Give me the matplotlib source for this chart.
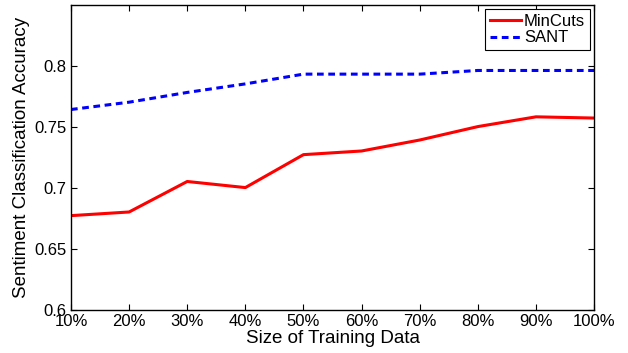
import numpy as np
import matplotlib.pyplot as plt

plt.rcParams['font.family'] = ['Liberation Sans', 'DejaVu Sans']

# Data
sizes = [10, 20, 30, 40, 50, 60, 70, 80, 90, 100]
size_labels = ['10%', '20%', '30%', '40%', '50%', '60%', '70%', '80%', '90%', '100%']
mincuts = [0.677, 0.680, 0.705, 0.700, 0.727, 0.730, 0.739, 0.750, 0.758, 0.757]
sant = [0.764, 0.770, 0.778, 0.785, 0.793, 0.793, 0.793, 0.796, 0.796, 0.796]
y_ticks = [0.6, 0.65, 0.7, 0.75, 0.8]
y_tick_labels = ['0.6', '0.65', '0.7', '0.75', '0.8']

fig = plt.figure(figsize=(6.28, 3.53), dpi=100)
ax = fig.add_axes([0.113, 0.123, 0.833, 0.864])

ax.plot(sizes, mincuts, color='red', lw=2.2, label='MinCuts')
ax.plot(sizes, sant, color='blue', lw=2.2, linestyle=(0, (2.2, 1.5)), label='SANT')

ax.set_xlim(10, 100)
ax.set_ylim(0.6, 0.85)
ax.set_xticks(sizes)
ax.set_xticklabels(size_labels)
ax.set_yticks(y_ticks)
ax.set_yticklabels(y_tick_labels)
ax.tick_params(direction='in', top=True, right=True, labelsize=12, length=4, width=0.8)
ax.tick_params(axis='x', pad=3)
ax.tick_params(axis='y', pad=3)
for s in ax.spines.values():
    s.set_linewidth(1.0)

ax.set_xlabel('Size of Training Data', fontsize=13.5, labelpad=1)
ax.set_ylabel('Sentiment Classification Accuracy', fontsize=13.5, labelpad=3)

leg = ax.legend(loc='upper right', fontsize=12, fancybox=False, framealpha=1,
                edgecolor='black', borderaxespad=0.25, handlelength=1.9,
                handletextpad=0.15, borderpad=0.3, labelspacing=0.1)
leg.get_frame().set_linewidth(0.8)

fig.savefig('out.png', dpi=100)
